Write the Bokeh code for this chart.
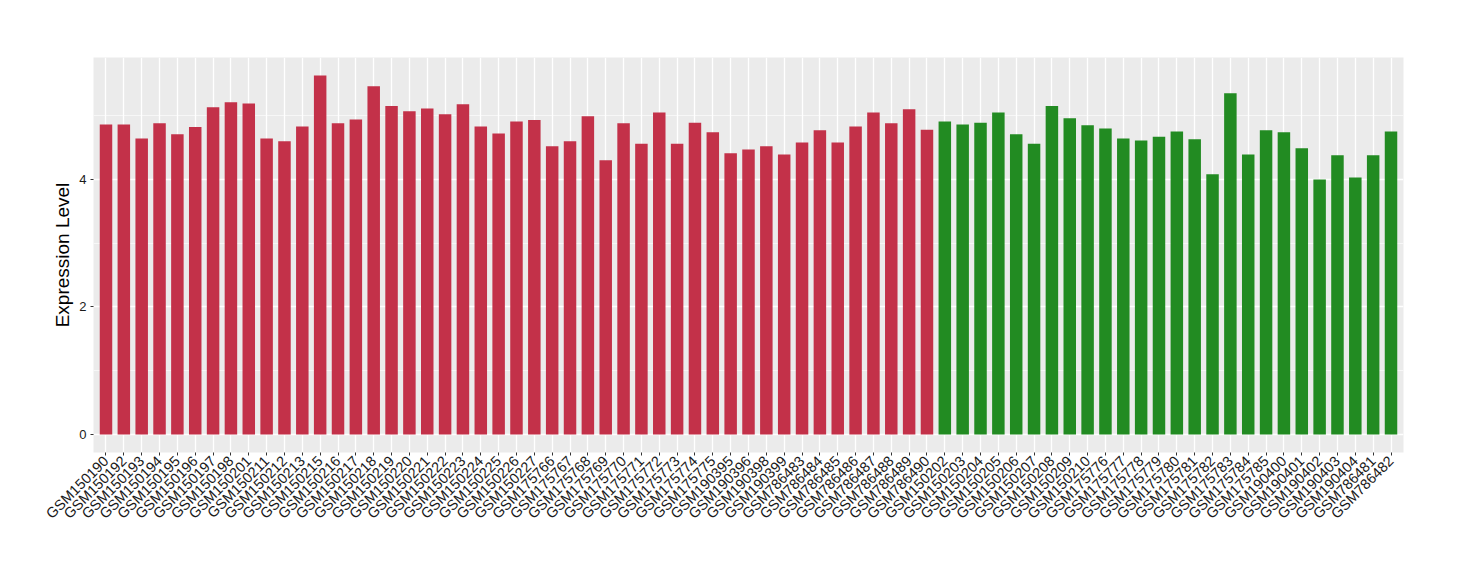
from bokeh.plotting import figure
from bokeh.models import FactorRange, Range1d, FixedTicker, ColumnDataSource
from bokeh.embed import file_html
from bokeh.resources import INLINE
import math

red_samples = ["GSM150190", "GSM150192", "GSM150193", "GSM150194", "GSM150195", "GSM150196",
               "GSM150197", "GSM150198", "GSM150201", "GSM150211", "GSM150212", "GSM150213",
               "GSM150215", "GSM150216", "GSM150217", "GSM150218", "GSM150219", "GSM150220",
               "GSM150221", "GSM150222", "GSM150223", "GSM150224", "GSM150225", "GSM150226",
               "GSM150227", "GSM175766", "GSM175767", "GSM175768", "GSM175769", "GSM175770",
               "GSM175771", "GSM175772", "GSM175773", "GSM175774", "GSM175775", "GSM190395",
               "GSM190396", "GSM190398", "GSM190399", "GSM786483", "GSM786484", "GSM786485",
               "GSM786486", "GSM786487", "GSM786488", "GSM786489", "GSM786490"]
red_values = [4.86, 4.86, 4.64, 4.88, 4.71, 4.82, 5.13, 5.21, 5.19, 4.64, 4.60, 4.83,
              5.63, 4.88, 4.94, 5.46, 5.15, 5.07, 5.11, 5.02, 5.18, 4.83, 4.72, 4.91,
              4.93, 4.52, 4.60, 4.99, 4.30, 4.88, 4.56, 5.05, 4.56, 4.89, 4.74, 4.41,
              4.47, 4.52, 4.39, 4.58, 4.77, 4.58, 4.83, 5.05, 4.88, 5.10, 4.78]

green_samples = ["GSM150202", "GSM150203", "GSM150204", "GSM150205", "GSM150206", "GSM150207",
                 "GSM150208", "GSM150209", "GSM150210", "GSM175776", "GSM175777", "GSM175778",
                 "GSM175779", "GSM175780", "GSM175781", "GSM175782", "GSM175783", "GSM175784",
                 "GSM175785", "GSM190400", "GSM190401", "GSM190402", "GSM190403", "GSM190404",
                 "GSM786481", "GSM786482"]
green_values = [4.91, 4.86, 4.89, 5.05, 4.71, 4.56, 5.15, 4.96, 4.85, 4.80, 4.64, 4.61,
                4.67, 4.75, 4.63, 4.08, 5.35, 4.39, 4.77, 4.74, 4.49, 4.00, 4.38, 4.03,
                4.38, 4.75]

y_ticks = [0, 2, 4]
y_minor = [1, 3, 5]

RED = "#C33149"
GREEN = "#228B22"

samples = red_samples + green_samples
values = red_values + green_values
colors = [RED] * len(red_samples) + [GREEN] * len(green_samples)
src = ColumnDataSource(dict(x=samples, top=values, color=colors))

vmax = max(values)
pad = vmax * 0.05

p = figure(width=1444, height=564, output_backend="svg", toolbar_location=None,
           x_range=FactorRange(factors=samples, range_padding=0.2, range_padding_units="absolute"),
           y_range=Range1d(-pad, vmax + pad),
           min_border_left=93, min_border_right=41, min_border_top=57, min_border_bottom=112)
p.outline_line_color = None
p.background_fill_color = "#EBEBEB"
p.border_fill_color = "white"

p.vbar(x="x", top="top", width=0.7, source=src, fill_color="color", line_color=None)

p.xgrid.grid_line_color = "white"
p.xgrid.grid_line_width = 1.3
p.ygrid.grid_line_color = "white"
p.ygrid.grid_line_width = 1.3
p.ygrid.minor_grid_line_color = "white"
p.ygrid.minor_grid_line_width = 0.6

p.yaxis.ticker = FixedTicker(ticks=y_ticks, minor_ticks=y_minor)
p.yaxis.axis_label = "Expression Level"
p.yaxis.axis_label_text_font = "Liberation Sans"
p.yaxis.axis_label_text_font_size = "19px"
p.yaxis.axis_label_text_font_style = "normal"
p.yaxis.axis_label_text_color = "black"
p.yaxis.axis_label_standoff = 3

for ax in (p.xaxis[0], p.yaxis[0]):
    ax.axis_line_color = None
    ax.major_tick_line_color = "#333333"
    ax.major_tick_out = 3
    ax.major_tick_in = 0
    ax.minor_tick_line_color = None
    ax.major_label_text_font = "Liberation Sans"
    ax.major_label_text_color = "#1A1A1A"
    ax.major_label_standoff = 3

p.xaxis.major_label_text_font_size = "14.5px"
p.yaxis.major_label_text_font_size = "13px"
p.xaxis.major_label_orientation = math.pi / 4

open("out.html", "w").write(file_html(p, INLINE))
